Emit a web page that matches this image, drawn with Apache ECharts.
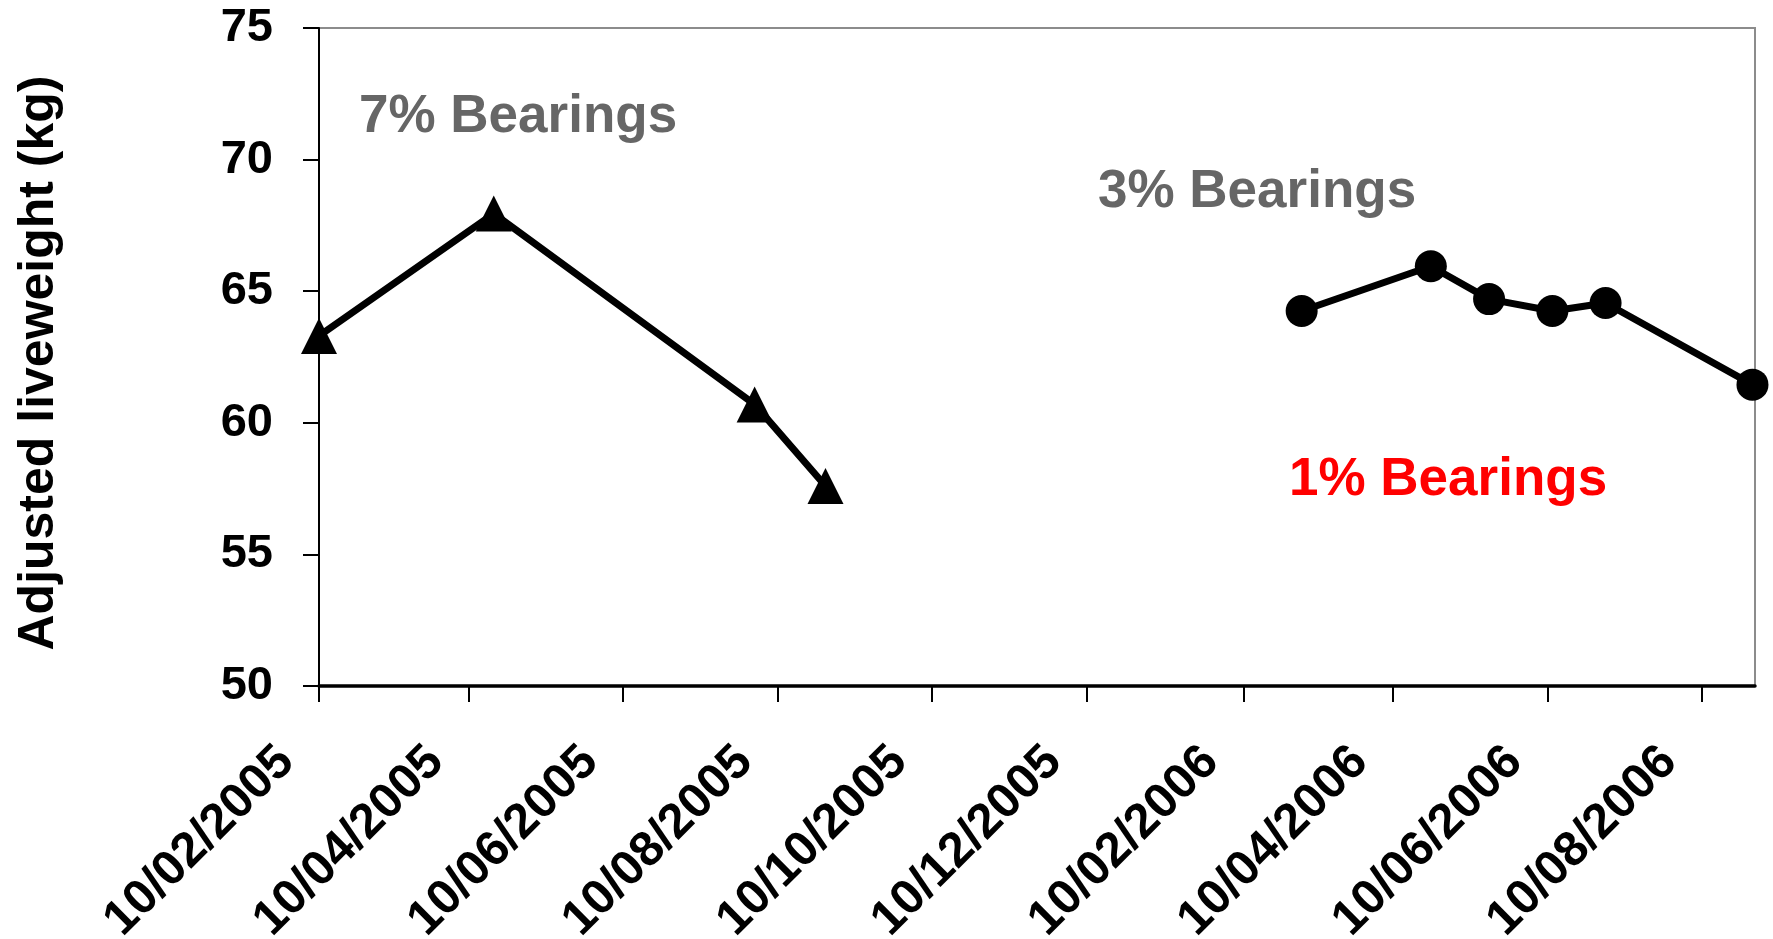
<!DOCTYPE html>
<html>
<head>
<meta charset="utf-8">
<script src="https://cdn.jsdelivr.net/npm/echarts@6/dist/echarts.min.js"></script>
<style>
html,body{margin:0;padding:0;background:#fff;}
#chart{width:1773px;height:939px;}
</style>
</head>
<body>
<div id="chart"></div>
<script>
// ---- data ----
const dates7 = ['2005-02-10', '2005-04-20', '2005-08-01', '2005-08-29'];
const values7 = [63.3, 67.95, 60.7, 57.6];
const dates3 = ['2006-03-05', '2006-04-25', '2006-05-18', '2006-06-12', '2006-07-03', '2006-08-30'];
const values3 = [64.25, 65.95, 64.7, 64.25, 64.55, 61.45];
const tickDates = ['2005-02-10', '2005-04-10', '2005-06-10', '2005-08-10', '2005-10-10', '2005-12-10',
                   '2006-02-10', '2006-04-10', '2006-06-10', '2006-08-10'];
const tickLabels = ['10/02/2005', '10/04/2005', '10/06/2005', '10/08/2005', '10/10/2005', '10/12/2005',
                    '10/02/2006', '10/04/2006', '10/06/2006', '10/08/2006'];
const xMinDate = '2005-02-10';
const xMaxDate = '2006-08-31';
const yTicks = [50, 55, 60, 65, 70, 75];
const annotations = ['7% Bearings', '3% Bearings', '1% Bearings'];

function ts(s) {
  const p = s.split('-').map(Number);
  return Date.UTC(p[0], p[1] - 1, p[2]);
}
const tickTs = tickDates.map(ts);

const FONT = 'Arial, "Liberation Sans", sans-serif';
const chart = echarts.init(document.getElementById('chart'), null, {renderer: 'canvas'});

const option = {
  backgroundColor: '#ffffff',
  animation: false,
  grid: {
    left: 319, top: 28, right: 18, bottom: 253,
    outerBoundsMode: 'none',
    containLabel: false,
    show: true, borderColor: '#8c8c8c', borderWidth: 2, backgroundColor: 'transparent'
  },
  xAxis: {
    type: 'value',
    min: ts(xMinDate),
    max: ts(xMaxDate),
    splitLine: {show: false},
    axisLine: {show: true, onZero: false, lineStyle: {color: '#000', width: 3.5}},
    axisTick: {show: true, inside: false, length: 16, lineStyle: {color: '#000', width: 2},
               customValues: tickTs},
    axisLabel: {
      customValues: tickTs,
      rotate: 45,
      margin: 36,
      padding: [0, 46, 0, 0],
      color: '#000',
      fontFamily: FONT,
      fontWeight: 'bold',
      fontSize: 49,
      formatter: function (v) {
        const i = tickTs.indexOf(v);
        return i >= 0 ? tickLabels[i] : '';
      }
    }
  },
  yAxis: {
    type: 'value',
    min: yTicks[0],
    max: yTicks[yTicks.length - 1],
    interval: 5,
    name: 'Adjusted liveweight (kg)',
    nameLocation: 'middle',
    nameRotate: 90,
    nameGap: 255,
    nameTextStyle: {color: '#000', fontFamily: FONT, fontWeight: 'bold', fontSize: 50,
                    padding: [0, 12, 0, 0]},
    splitLine: {show: false},
    axisLine: {show: true, lineStyle: {color: '#000', width: 2}},
    axisTick: {show: true, inside: false, length: 16, lineStyle: {color: '#000', width: 2}},
    axisLabel: {
      margin: 46,
      color: '#000',
      fontFamily: FONT,
      fontWeight: 'bold',
      fontSize: 47
    }
  },
  series: [
    {
      name: '7% Bearings',
      type: 'line',
      data: dates7.map((d, i) => [ts(d), values7[i]]),
      symbol: 'triangle',
      symbolSize: [36, 36],
      showAllSymbol: true,
      clip: false,
      lineStyle: {color: '#000', width: 7},
      itemStyle: {color: '#000'},
      z: 3
    },
    {
      name: '3% Bearings',
      type: 'line',
      data: dates3.map((d, i) => [ts(d), values3[i]]),
      symbol: 'circle',
      symbolSize: 32,
      showAllSymbol: true,
      clip: false,
      lineStyle: {color: '#000', width: 7},
      itemStyle: {color: '#000'},
      z: 3
    }
  ],
  graphic: [
    {type: 'text', style: {text: annotations[0], fill: '#666666', font: 'bold 53px ' + FONT},
      position: [359, 91]},
    {type: 'text', style: {text: annotations[1], fill: '#666666', font: 'bold 53px ' + FONT},
      position: [1098, 166]},
    {type: 'text', style: {text: annotations[2], fill: '#ff0000', font: 'bold 53px ' + FONT},
      position: [1289, 454]}
  ]
};
chart.setOption(option);
</script>
</body>
</html>
